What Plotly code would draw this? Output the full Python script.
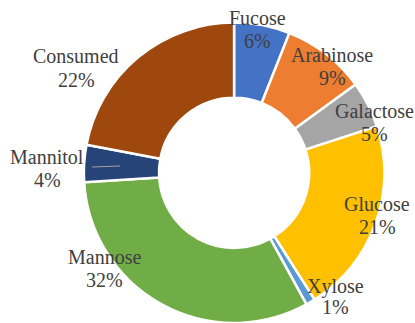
import plotly.graph_objects as go

W, H = 415, 323

# Sugar composition (percent of total)
names = ["Fucose", "Arabinose", "Galactose", "Glucose", "Xylose", "Mannose", "Mannitol", "Consumed"]
values = [6, 9, 5, 21, 1, 32, 4, 22]
colors = ["#4472C4", "#ED7D31", "#A5A5A5", "#FFC000", "#5B9BD5", "#70AD47", "#264478", "#9E480E"]

# Label centres in pixels (name line, percent line)
label_pos = {
    "Fucose": (257, 18, 257, 41),
    "Arabinose": (332, 55, 332, 78),
    "Galactose": (374, 111, 374, 134),
    "Glucose": (377, 204, 377, 227),
    "Xylose": (335, 286, 335, 307),
    "Mannose": (104, 257, 104, 280),
    "Mannitol": (47, 157, 47, 180),
    "Consumed": (76, 56, 76, 80),
}

fig = go.Figure(
    go.Pie(
        labels=names,
        values=values,
        hole=0.5,
        sort=False,
        direction="clockwise",
        rotation=0,
        marker=dict(colors=colors, line=dict(color="white", width=2.5)),
        textinfo="none",
        hoverinfo="label+percent",
        showlegend=False,
        domain=dict(x=[0.2, 0.928], y=[0.0, 0.93]),
    )
)

font = dict(family="Liberation Serif, Times New Roman, serif", size=20, color="#404040")
annotations = []
for n, v in zip(names, values):
    x1, y1, x2, y2 = label_pos[n]
    annotations.append(dict(text=n, x=x1 / W, y=1 - y1 / H, xref="paper", yref="paper",
                            xanchor="center", yanchor="middle", showarrow=False, font=font))
    annotations.append(dict(text=f"{v}%", x=x2 / W, y=1 - y2 / H, xref="paper", yref="paper",
                            xanchor="center", yanchor="middle", showarrow=False, font=font))

# Short leader line for the Mannitol label
shapes = [dict(type="line", xref="paper", yref="paper",
               x0=92 / W, y0=1 - 167 / H, x1=120 / W, y1=1 - 166 / H,
               line=dict(color="#A0A0A0", width=1.2))]

fig.update_layout(
    width=W, height=H,
    margin=dict(l=0, r=0, t=0, b=0),
    paper_bgcolor="white", plot_bgcolor="white",
    annotations=annotations,
    shapes=shapes,
)

fig.write_html("out.html")
